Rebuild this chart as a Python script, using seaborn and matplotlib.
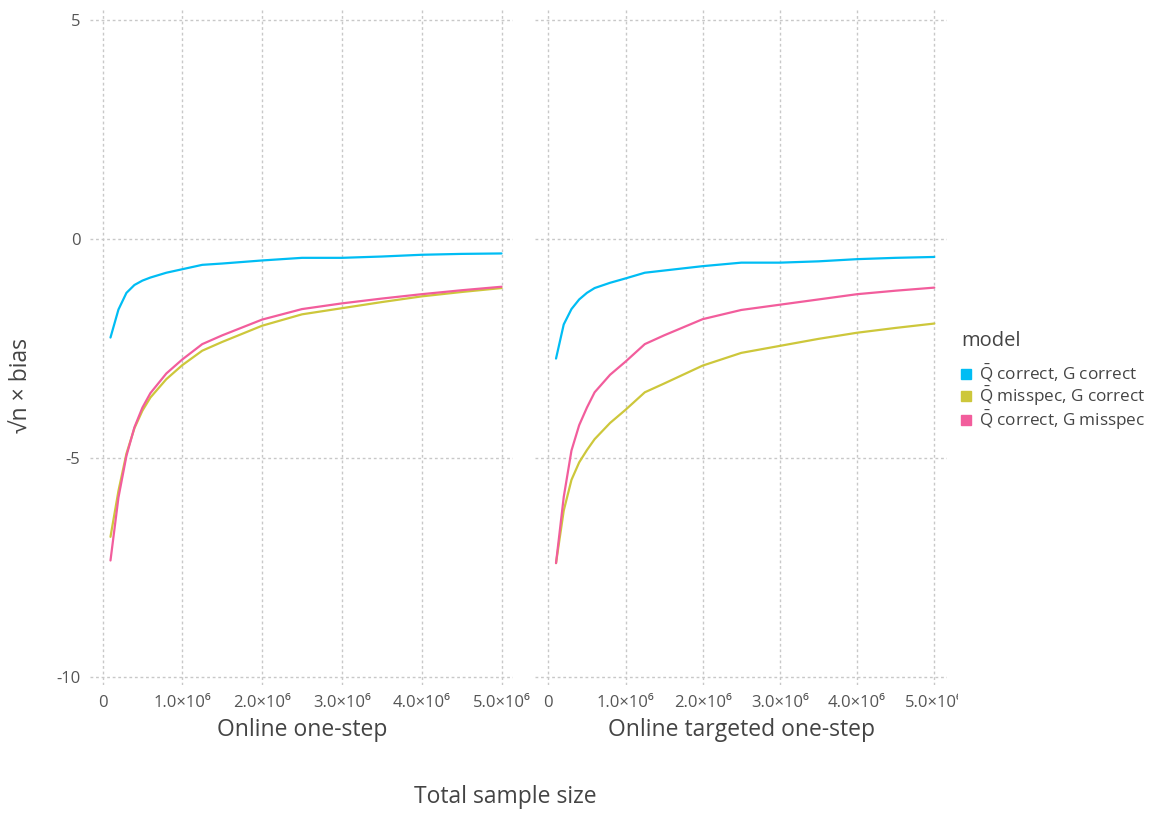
import matplotlib
matplotlib.use("Agg")
import matplotlib.pyplot as plt
from matplotlib.lines import Line2D
from matplotlib.transforms import Bbox, TransformedBbox
import numpy as np
import pandas as pd
import seaborn as sns

# Total sample sizes (millions)
sample_size_m = [0.1, 0.2, 0.3, 0.4, 0.5, 0.6, 0.8, 1.0, 1.25, 1.5,
                 2.0, 2.5, 3.0, 3.5, 4.0, 4.5, 5.0]

models = [r"$\bar{\mathrm{Q}}$ correct, G correct",
          r"$\bar{\mathrm{Q}}$ misspec, G correct",
          r"$\bar{\mathrm{Q}}$ correct, G misspec"]
estimators = ["Online one-step", "Online targeted one-step"]

# sqrt(n) * bias, online one-step estimator
onestep_qc_gc = [-2.25, -1.61, -1.23, -1.05, -0.95, -0.88, -0.77, -0.69, -0.59, -0.56,
                 -0.49, -0.43, -0.43, -0.40, -0.36, -0.34, -0.33]
onestep_qm_gc = [-6.80, -5.75, -4.90, -4.32, -3.92, -3.62, -3.20, -2.88, -2.55, -2.35,
                 -1.98, -1.72, -1.58, -1.44, -1.31, -1.21, -1.12]
onestep_qc_gm = [-7.34, -5.90, -4.95, -4.30, -3.85, -3.52, -3.07, -2.75, -2.40, -2.20,
                 -1.84, -1.60, -1.47, -1.36, -1.26, -1.17, -1.09]

# sqrt(n) * bias, online targeted one-step estimator
targeted_qc_gc = [-2.73, -1.95, -1.60, -1.38, -1.23, -1.12, -1.00, -0.90, -0.77, -0.72,
                  -0.62, -0.54, -0.54, -0.51, -0.46, -0.43, -0.41]
targeted_qm_gc = [-7.40, -6.20, -5.50, -5.10, -4.82, -4.57, -4.20, -3.90, -3.50, -3.30,
                  -2.89, -2.60, -2.44, -2.28, -2.14, -2.03, -1.93]
targeted_qc_gm = [-7.40, -5.89, -4.83, -4.25, -3.85, -3.50, -3.10, -2.80, -2.40, -2.20,
                  -1.83, -1.62, -1.50, -1.38, -1.26, -1.18, -1.11]

y_ticks = [5, 0, -5, -10]
x_ticks_m = [0, 1, 2, 3, 4, 5]
x_tick_labels = ["0", "1.0×10⁶", "2.0×10⁶", "3.0×10⁶", "4.0×10⁶", "5.0×10⁶"]

palette = {models[0]: "#00BDF4", models[1]: "#CDC73B", models[2]: "#F25D9C"}

rows = []
series = {
    estimators[0]: [onestep_qc_gc, onestep_qm_gc, onestep_qc_gm],
    estimators[1]: [targeted_qc_gc, targeted_qm_gc, targeted_qc_gm],
}
for est, vals in series.items():
    for model, ys in zip(models, vals):
        for n, b in zip(sample_size_m, ys):
            rows.append({"estimator": est, "model": model, "n": n * 1e6, "bias": b})
df = pd.DataFrame(rows)

sns.set_theme(style="white")
plt.rcParams["font.family"] = ["Open Sans", "DejaVu Sans"]
plt.rcParams["mathtext.fontset"] = "custom"
plt.rcParams["mathtext.rm"] = "Open Sans"
plt.rcParams["mathtext.it"] = "Open Sans:italic"
plt.rcParams["mathtext.bf"] = "Open Sans:bold"

W, H = 1153, 813
fig = plt.figure(figsize=(W / 100, H / 100), dpi=100)

panel_px = [(90, 513), (535, 947)]
top_px, bot_px = 8, 685
zero_px = [102.5, 548.3]
px_per_m = [79.8, 77.2]

text_col = "#444444"
grid_col = "#C8C8C8"

axes = []
for i, est in enumerate(estimators):
    x0, x1 = panel_px[i]
    ax = fig.add_axes([x0 / W, 1 - bot_px / H, (x1 - x0) / W, (bot_px - top_px) / H])
    sub = df[df["estimator"] == est]
    sns.lineplot(data=sub, x="n", y="bias", hue="model", hue_order=models,
                 palette=palette, linewidth=1.6, legend=False, ax=ax,
                 estimator=None, sort=False)
    xmin = (x0 - zero_px[i]) / px_per_m[i] * 1e6
    xmax = (x1 - zero_px[i]) / px_per_m[i] * 1e6
    ax.set_xlim(xmin, xmax)
    ax.set_ylim(-10 - 8 / 43.8, 5 + 12 / 43.8)
    ax.set_xticks([t * 1e6 for t in x_ticks_m])
    ax.set_xticklabels(x_tick_labels)
    ax.set_yticks(y_ticks)
    if i == 0:
        ax.set_yticklabels([str(t) for t in y_ticks])
    else:
        ax.set_yticklabels([])
    ax.grid(True, color=grid_col, linestyle=(0, (2, 2)), linewidth=1.0)
    for s in ax.spines.values():
        s.set_visible(False)
    ax.tick_params(axis="both", length=0, labelsize=12, labelcolor="#555555")
    ax.tick_params(axis="x", pad=7)
    ax.tick_params(axis="y", pad=7)
    ax.set_xlabel("")
    ax.set_ylabel("")
    ax.set_facecolor("white")
    axes.append(ax)

# clip the right panel's tick labels at the panel edge
clip = TransformedBbox(Bbox([[0, 0], [958 / W, 1]]), fig.transFigure)
for lab in axes[1].get_xticklabels():
    lab.set_clip_on(True)
    lab.set_clip_box(clip)

# panel titles under the x axes
fig.text(302 / W, 1 - 730 / H, estimators[0], ha="center", va="center",
         fontsize=16.5, color=text_col)
fig.text(742 / W, 1 - 730 / H, estimators[1], ha="center", va="center",
         fontsize=16.5, color=text_col)
fig.text(505 / W, 1 - 797 / H, "Total sample size", ha="center", va="center",
         fontsize=16.5, color=text_col)
fig.text(22 / W, 1 - 385 / H, "√n × bias", ha="center", va="center",
         rotation=90, fontsize=16.5, color=text_col)

handles = [Line2D([], [], linestyle="none", marker="s", markersize=7,
                  markerfacecolor=palette[m], markeredgecolor=palette[m]) for m in models]
leg = fig.legend(handles, models, title="model", loc="upper left",
                 bbox_to_anchor=(961 / W, 1 - 331 / H), frameon=False,
                 fontsize=12.3, title_fontsize=14.5, handlelength=0.6,
                 handletextpad=0.45, labelspacing=0.05, alignment="left",
                 borderaxespad=0, borderpad=0)
leg._legend_box.sep = 8.5
for t in leg.get_texts():
    t.set_color(text_col)
leg.get_title().set_color(text_col)

fig.savefig("out.png", dpi=100, facecolor="white")
